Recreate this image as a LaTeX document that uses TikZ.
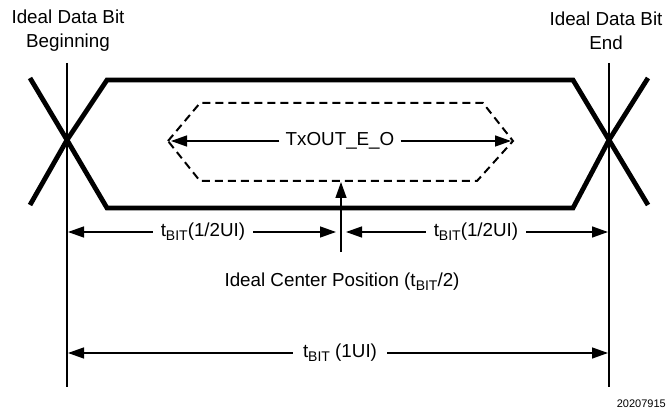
\documentclass[tikz,border=0pt]{standalone}
\usepackage{fontspec}
\setmainfont{Liberation Sans}
\usetikzlibrary{arrows.meta}
\newcommand{\tbitsub}{t\raisebox{-0.35ex}{\fontsize{14}{16}\selectfont BIT}}
\begin{document}
\begin{tikzpicture}[x=1pt,y=-1pt,
  lbl/.style={font=\fontsize{18.8}{24}\selectfont, inner sep=1pt, align=center},
  eye/.style={line width=4.8pt, line join=miter},
  guide/.style={line width=1.4pt},
  dim/.style={line width=1.4pt, -{Triangle[length=16pt,width=11pt]}},
  dashbox/.style={line width=2pt, dash pattern=on 8pt off 5pt, line join=miter}]
\useasboundingbox (0,0) rectangle (670,417);
% vertical guides
\coordinate (Ltop) at (67,63);
\coordinate (Lbot) at (67,387);
\coordinate (Rtop) at (609,63);
\coordinate (Rbot) at (609,387);
\draw[guide] (Ltop) -- (Lbot);
\draw[guide] (Rtop) -- (Rbot);
% eye
\draw[eye] (30,78) -- (67,140) -- (107,208) -- (573,208) -- (609,140) -- (648,78);
\draw[eye] (30,205) -- (67,140) -- (107,80) -- (573,80) -- (609,140) -- (648,205);
% dashed inner eye
\draw[dashbox] (168,141) -- (200,103) -- (483,103) -- (513,141) -- (477,181) -- (200,181) -- cycle;
% TxOUT arrow
\node[lbl, fill=white, inner xsep=6pt] (tx) at (340,141) {TxOUT\_E\_O};
\coordinate (txL) at (171,141);
\coordinate (txR) at (511,141);
\draw[dim] (tx.west) -- (txL);
\draw[dim] (tx.east) -- (txR);
% labels top
\node[lbl] (beg) at (68,31) {Ideal Data Bit\\Beginning};
\node[lbl] (endl) at (606,31) {Ideal Data Bit\\End};
% center arrow
\coordinate (ctop) at (341,182);
\coordinate (cbot) at (341,252);
\draw[dim] (cbot) -- (ctop);
% half arrows
\node[lbl, inner xsep=8pt] (h1) at (203,232) {\tbitsub(1/2UI)};
\node[lbl, inner xsep=8pt] (h2) at (476,232) {\tbitsub(1/2UI)};
\coordinate (h1L) at (68,232);
\coordinate (h1R) at (336,232);
\coordinate (h2L) at (346,232);
\coordinate (h2R) at (608,232);
\draw[dim] (h1.west) -- (h1L);
\draw[dim] (h1.east) -- (h1R);
\draw[dim] (h2.west) -- (h2L);
\draw[dim] (h2.east) -- (h2R);
% center label
\node[lbl] (cpos) at (342,282) {Ideal Center Position (\tbitsub/2)};
% full arrow
\node[lbl, inner xsep=10pt] (full) at (340,353) {\tbitsub{} (1UI)};
\coordinate (fL) at (68,353);
\coordinate (fR) at (608,353);
\draw[dim] (full.west) -- (fL);
\draw[dim] (full.east) -- (fR);
% id
\node[font=\fontsize{11}{12}\selectfont, anchor=east, inner sep=0pt] (id) at (666,404) {20207915};
\end{tikzpicture}
\end{document}
